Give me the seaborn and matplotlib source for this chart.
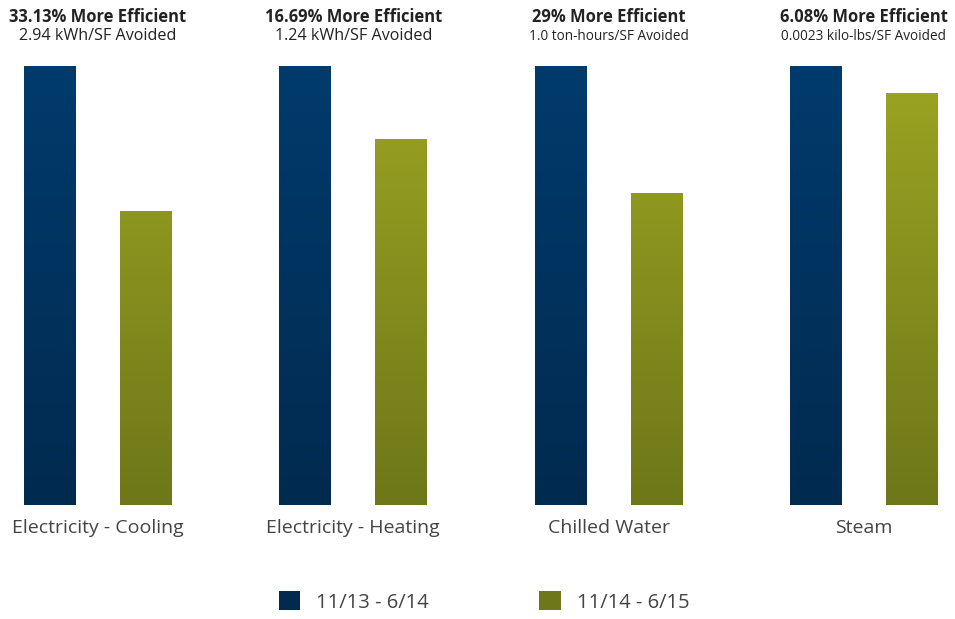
import numpy as np
import pandas as pd
import matplotlib
matplotlib.use("Agg")
import matplotlib.pyplot as plt
import seaborn as sns
from matplotlib.colors import LinearSegmentedColormap
from matplotlib.patches import Patch

categories = ["Electricity - Cooling", "Electricity - Heating", "Chilled Water", "Steam"]
periods = ["11/13 - 6/14", "11/14 - 6/15"]
baseline = [100, 100, 100, 100]
current = [66.87, 83.31, 71.0, 93.92]
headlines = ["33.13% More Efficient", "16.69% More Efficient", "29% More Efficient", "6.08% More Efficient"]
sublines = ["2.94 kWh/SF Avoided", "1.24 kWh/SF Avoided", "1.0 ton-hours/SF Avoided", "0.0023 kilo-lbs/SF Avoided"]

df = pd.DataFrame({
    "category": categories * 2,
    "period": [periods[0]] * 4 + [periods[1]] * 4,
    "value": baseline + current,
})

sns.set_theme(style="white")
plt.rcParams["font.family"] = ["Open Sans", "DejaVu Sans"]

fig = plt.figure(figsize=(9.55, 6.19), dpi=100)
ax = fig.add_axes([0.0, 1 - 505 / 619, 1.0, (505 - 66) / 619])

blue_top, blue_bot = "#003b6d", "#022a4f"
green_top, green_bot = "#9ca522", "#6e7719"

sns.barplot(data=df, x="category", y="value", hue="period", order=categories,
            hue_order=periods, palette=[blue_top, green_top], width=0.753, gap=0.46,
            ax=ax, legend=False, saturation=1)

spacing = 255.3
xmin = -98 / spacing
ax.set_xlim(xmin, xmin + 955 / spacing)
ax.set_ylim(0, 100)
ax.axis("off")

cmaps = {
    blue_top: LinearSegmentedColormap.from_list("b", [blue_bot, blue_top]),
    green_top: LinearSegmentedColormap.from_list("g", [green_bot, green_top]),
}
grad = np.linspace(0, 1, 256).reshape(-1, 1)
for p in list(ax.patches):
    fc = matplotlib.colors.to_hex(p.get_facecolor())
    cmap = cmaps[blue_top] if fc.lower() == blue_top else cmaps[green_top]
    x0 = p.get_x()
    x1 = x0 + p.get_width()
    im = ax.imshow(grad, cmap=cmap, aspect="auto", origin="lower",
                   extent=[x0, x1, 0, 100], zorder=p.get_zorder() + 0.1)
    im.set_clip_path(p)
ax.set_xlim(xmin, xmin + 955 / spacing)
ax.set_ylim(0, 100)

for i, cat in enumerate(categories):
    xc = (98 + i * spacing) / 955
    fig.text(xc, 1 - 528 / 619, cat, ha="center", va="center", fontsize=14, color="#444444")
    fig.text(xc, 1 - 17.5 / 619, headlines[i], ha="center", va="center", fontsize=11.9,
             fontweight="bold", color="#222222")
    fig.text(xc, 1 - 36.5 / 619, sublines[i], ha="center", va="center",
             fontsize=11.6 if i < 2 else 9.8, color="#222222")

handles = [Patch(facecolor=blue_bot, edgecolor="none"), Patch(facecolor=green_bot, edgecolor="none")]
fig.legend(handles, periods, loc="center", bbox_to_anchor=(484 / 955, 1 - 602 / 619), ncol=2,
           frameon=False, fontsize=14.5, handlelength=1.05, handleheight=1.05,
           columnspacing=5.5, handletextpad=0.8, labelcolor="#444444")

fig.savefig("out.png", dpi=100, facecolor="white")
